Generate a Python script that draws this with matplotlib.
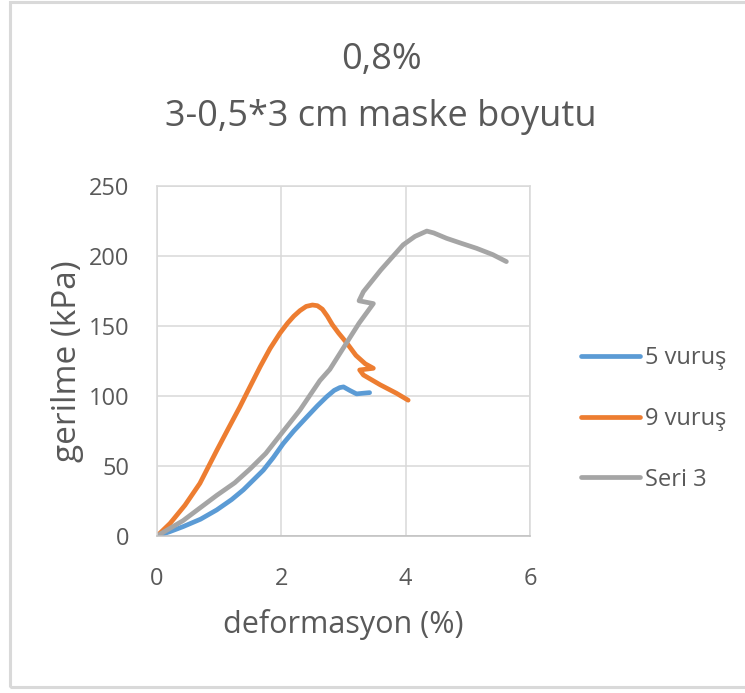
import matplotlib
matplotlib.use("Agg")
import matplotlib.pyplot as plt
from matplotlib.patches import Rectangle

plt.rcParams['font.family'] = ['Open Sans', 'DejaVu Sans']

title_lines = ["0,8%", "3-0,5*3 cm maske boyutu"]
x_label = "deformasyon (%)"
y_label = "gerilme (kPa)"
x_ticks = [0, 2, 4, 6]
y_ticks = [0, 50, 100, 150, 200, 250]

# 5 vuruş
s5_x = [0.0, 0.2, 0.42, 0.7, 0.96, 1.2, 1.39, 1.55, 1.71, 1.87, 2.03, 2.2, 2.41, 2.58, 2.73, 2.85, 2.94, 3.0, 3.1, 3.21, 3.32, 3.42]
s5_y = [0.0, 3.0, 6.7, 12.0, 18.6, 26.0, 33.0, 40.0, 47.0, 56.0, 66.0, 75.0, 85.0, 93.0, 99.5, 104.0, 106.0, 106.5, 104.0, 101.5, 102.0, 102.4]

# 9 vuruş
s9_x = [0.0, 0.21, 0.45, 0.69, 0.96, 1.15, 1.33, 1.5, 1.66, 1.82, 1.98, 2.1, 2.2, 2.3, 2.4, 2.5, 2.58, 2.66, 2.74, 2.82, 2.92, 3.05, 3.2, 3.35, 3.48, 3.26, 3.32, 3.59, 3.85, 4.04]
s9_y = [0.0, 9.0, 22.0, 37.6, 61.0, 77.0, 92.0, 107.0, 121.0, 134.0, 145.0, 152.0, 157.0, 161.0, 164.0, 165.0, 164.5, 162.0, 157.0, 151.0, 145.0, 138.0, 129.0, 123.0, 119.8, 118.6, 115.0, 108.0, 102.0, 97.0]

# Seri 3
s3_x = [0.0, 0.42, 0.96, 1.25, 1.5, 1.75, 1.98, 2.3, 2.62, 2.78, 3.05, 3.25, 3.48, 3.25, 3.32, 3.6, 3.8, 3.96, 4.15, 4.34, 4.45, 4.66, 4.9, 5.14, 5.4, 5.62]
s3_y = [0.0, 11.0, 29.0, 38.0, 48.0, 59.0, 72.0, 90.0, 111.0, 119.0, 138.0, 152.0, 166.0, 168.0, 174.5, 190.0, 200.0, 208.0, 214.0, 217.8, 216.5, 212.6, 209.0, 205.5, 201.0, 196.0]

series_names = ["5 vuruş", "9 vuruş", "Seri 3"]
series_colors = ["#5B9BD5", "#ED7D31", "#A5A5A5"]

fig = plt.figure(figsize=(7.45, 6.93), dpi=100)
fig.patch.set_facecolor("white")

# outer chart border
fig.add_artist(Rectangle((10 / 745, 6 / 693), 740 / 745, 685 / 693,
                         transform=fig.transFigure, fill=False,
                         edgecolor="#d9d9d9", linewidth=2.2))

ax = fig.add_axes([157 / 745, 1 - 536 / 693, 373 / 745, 350 / 693])

for xs, ys, name, col in zip([s5_x, s9_x, s3_x], [s5_y, s9_y, s3_y], series_names, series_colors):
    ax.plot(xs, ys, color=col, linewidth=3.4, label=name, solid_capstyle="round", solid_joinstyle="round")

ax.set_xlim(0, 6)
ax.set_ylim(0, 250)
ax.set_xticks(x_ticks)
ax.set_yticks(y_ticks)
ax.grid(True, color="#d9d9d9", linewidth=1.1)
ax.set_axisbelow(True)
for side in ["top", "right", "left"]:
    ax.spines[side].set_color("#d9d9d9")
    ax.spines[side].set_linewidth(1.1)
ax.spines["bottom"].set_color("#bfbfbf")
ax.spines["bottom"].set_linewidth(1.1)
ax.tick_params(length=0, labelsize=17, colors="#595959")
ax.tick_params(axis="y", pad=20)
ax.tick_params(axis="x", pad=22)

ax.set_xlabel(x_label, fontsize=22, color="#595959", labelpad=13)
ax.set_ylabel(y_label, fontsize=24, color="#595959", labelpad=3)

fig.text(381 / 745, 1 - 60 / 693, title_lines[0], ha="center", va="center", fontsize=26, color="#595959")
fig.text(381 / 745, 1 - 117 / 693, title_lines[1], ha="center", va="center", fontsize=26, color="#595959")

leg = ax.legend(loc="center left", bbox_to_anchor=(560 / 745, 1 - 419 / 693),
                bbox_transform=fig.transFigure, frameon=False, fontsize=17,
                handlelength=2.5, handletextpad=0.2, labelspacing=1.55)
for t in leg.get_texts():
    t.set_color("#595959")

fig.savefig("out.png", dpi=100, facecolor="white")
